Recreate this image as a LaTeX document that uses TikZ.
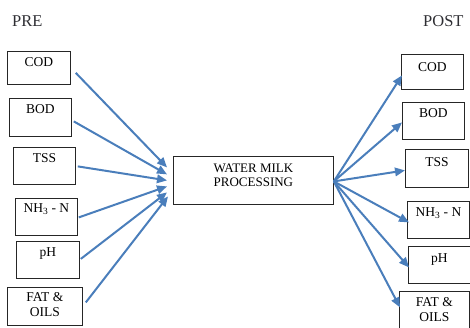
\documentclass[tikz,border=0pt]{standalone}
\usepackage{fontspec}
\setmainfont{Liberation Serif}
\usetikzlibrary{arrows.meta}
\definecolor{arrowblue}{HTML}{4A7EBB}
\definecolor{headtext}{HTML}{2E2E33}

% fixed-size box content: width, height, top padding, text
\newcommand\boxcontent[4]{\parbox[t][#2][t]{#1}{\centering\vspace*{#3}#4\par}}

\begin{document}
\begin{tikzpicture}[x=1pt,y=-1pt,
  box/.style={draw=black!85, line width=0.8pt, inner sep=0pt, anchor=north west,
              font=\fontsize{13.5}{15}\selectfont},
  flow/.style={draw=arrowblue, line width=2pt, -{Triangle[length=10pt,width=8.5pt]}},
  heading/.style={font=\fontsize{16.5}{18}\selectfont, text=headtext, anchor=base west, inner sep=0pt}]

\useasboundingbox (0,0) rectangle (470,327);

% headings
\node[heading] (pre)  at (12,26)  {PRE};
\node[heading] (post) at (423,26) {POST};

% parameters before treatment
\node[box] (lcod) at (7,51)   {\boxcontent{63pt}{33pt}{6pt}{COD}};
\node[box] (lbod) at (9,98)   {\boxcontent{62pt}{38pt}{6pt}{BOD}};
\node[box] (ltss) at (13,147) {\boxcontent{62pt}{37pt}{6pt}{TSS}};
\node[box] (lnh)  at (15,198) {\boxcontent{62pt}{37pt}{5pt}{NH\textsubscript{3} - N}};
\node[box] (lph)  at (16,241) {\boxcontent{63pt}{37pt}{6pt}{pH}};
\node[box] (lfat) at (7,287)  {\boxcontent{75pt}{38pt}{5pt}{FAT \&\\OILS}};

% process
\node[box, font=\fontsize{13}{14}\selectfont] (proc) at (173,156)
  {\boxcontent{160pt}{48pt}{8pt}{WATER MILK\\PROCESSING}};

% parameters after treatment
\node[box] (rcod) at (401,54)  {\boxcontent{62pt}{35pt}{8pt}{COD}};
\node[box] (rbod) at (402,102) {\boxcontent{62pt}{37pt}{6pt}{BOD}};
\node[box] (rtss) at (405,149) {\boxcontent{63pt}{38pt}{8pt}{TSS}};
\node[box] (rnh)  at (407,201) {\boxcontent{62pt}{37pt}{6pt}{NH\textsubscript{3} - N}};
\node[box] (rph)  at (408,246) {\boxcontent{62pt}{37pt}{7pt}{pH}};
\node[box] (rfat) at (399,291) {\boxcontent{70pt}{40pt}{6pt}{FAT \&\\OILS}};

% inflows
\draw[flow] ([shift={(5,5)}]lcod.east)  -- ([shift={(-6,-13)}]proc.west);
\draw[flow] ([shift={(2,4)}]lbod.east)  -- ([shift={(-6,-6)}]proc.west);
\draw[flow] ([shift={(2,0.5)}]ltss.east) -- ([shift={(-6,0)}]proc.west);
\draw[flow] ([shift={(1,0.5)}]lnh.east) -- ([shift={(-6,6)}]proc.west);
\draw[flow] ([shift={(1,-1)}]lph.east)  -- ([shift={(-6,12)}]proc.west);
\draw[flow] ([shift={(3,-4)}]lfat.east) -- ([shift={(-5,16)}]proc.west);

% outflows
\draw[flow] ([shift={(0,1)}]proc.east) -- ([shift={(1,3.5)}]rcod.west);
\draw[flow] ([shift={(0,1)}]proc.east) -- ([shift={(0,1.5)}]rbod.west);
\draw[flow] ([shift={(0,1)}]proc.east) -- ([shift={(0,2)}]rtss.west);
\draw[flow] ([shift={(0,1)}]proc.east) -- ([shift={(2,2.5)}]rnh.west);
\draw[flow] ([shift={(0,1)}]proc.east) -- ([shift={(1,2.5)}]rph.west);
\draw[flow] ([shift={(0,1)}]proc.east) -- ([shift={(1,-4)}]rfat.west);
\end{tikzpicture}
\end{document}
